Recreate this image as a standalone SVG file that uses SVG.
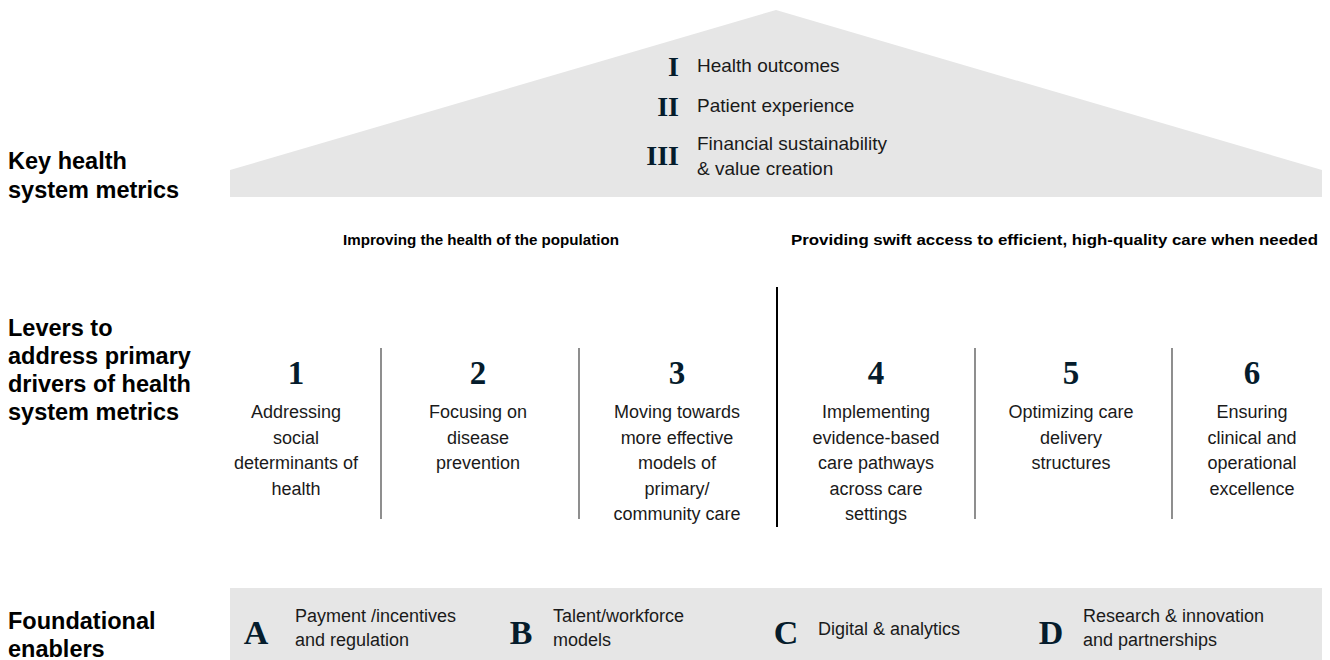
<svg xmlns="http://www.w3.org/2000/svg" width="1330" height="660" viewBox="0 0 1330 660">
  <style>
    .bg { fill: #ffffff; }
    .band { fill: #e6e6e6; }
    .section { font-family: "Liberation Sans", Arial, sans-serif; font-size: 23.5px; font-weight: bold; fill: #000000; }
    .head { font-family: "Liberation Sans", Arial, sans-serif; font-size: 15px; font-weight: bold; fill: #000000; }
    .txt { font-family: "Liberation Sans", Arial, sans-serif; font-size: 18px; fill: #1a1a1a; }
    .roof { font-family: "Liberation Sans", Arial, sans-serif; font-size: 19px; fill: #1a1a1a; }
    .lever { font-family: "Liberation Sans", Arial, sans-serif; font-size: 18px; fill: #1a1a1a; text-anchor: middle; }
    .num { font-family: "Liberation Serif", "Times New Roman", serif; font-size: 33px; font-weight: bold; fill: #051c2c; text-anchor: middle; }
    .roman { font-family: "Liberation Serif", "Times New Roman", serif; font-size: 28px; font-weight: bold; fill: #051c2c; text-anchor: end; }
    .letter { font-family: "Liberation Serif", "Times New Roman", serif; font-size: 34px; font-weight: bold; fill: #051c2c; text-anchor: middle; }
    .div { stroke: #444444; stroke-width: 1.2; }
    .split { stroke: #000000; stroke-width: 2; }
  </style>

  <rect class="bg" x="0" y="0" width="1330" height="660"/>

  <!-- Row labels -->
  <g id="label-metrics">
    <text class="section" x="8" y="169">Key health</text>
    <text class="section" x="8" y="198">system metrics</text>
  </g>
  <g id="label-levers">
    <text class="section" x="8" y="336">Levers to</text>
    <text class="section" x="8" y="364">address primary</text>
    <text class="section" x="8" y="392">drivers of health</text>
    <text class="section" x="8" y="420">system metrics</text>
  </g>
  <g id="label-enablers">
    <text class="section" x="8" y="629">Foundational</text>
    <text class="section" x="8" y="657">enablers</text>
  </g>

  <!-- Roof: health system metrics -->
  <g id="roof">
    <polygon class="band" points="230,170 776,10 1322,170 1322,197 230,197"/>
    <text class="roman" x="679" y="76">I</text>
    <text class="roof" x="697" y="72">Health outcomes</text>
    <text class="roman" x="679" y="116">II</text>
    <text class="roof" x="697" y="112">Patient experience</text>
    <text class="roman" x="679" y="165">III</text>
    <text class="roof" x="697" y="150">Financial sustainability</text>
    <text class="roof" x="697" y="175">&amp; value creation</text>
  </g>

  <!-- Objective headers -->
  <g id="header-population">
    <text class="head" x="343" y="245" textLength="276" lengthAdjust="spacingAndGlyphs">Improving the health of the population</text>
  </g>
  <g id="header-access">
    <text class="head" x="791" y="245" textLength="527" lengthAdjust="spacingAndGlyphs">Providing swift access to efficient, high-quality care when needed</text>
  </g>

  <!-- Dividers between levers -->
  <g id="connectors">
    <line class="split" x1="777" y1="287" x2="777" y2="527"/>
    <line class="div" x1="381" y1="348" x2="381" y2="519"/>
    <line class="div" x1="579" y1="348" x2="579" y2="519"/>
    <line class="div" x1="975" y1="348" x2="975" y2="519"/>
    <line class="div" x1="1172" y1="348" x2="1172" y2="519"/>
  </g>

  <!-- Levers -->
  <g id="lever-1">
    <text class="num" x="296" y="384">1</text>
    <text class="lever" x="296" y="418">Addressing</text>
    <text class="lever" x="296" y="443.5">social</text>
    <text class="lever" x="296" y="469">determinants of</text>
    <text class="lever" x="296" y="494.5">health</text>
  </g>
  <g id="lever-2">
    <text class="num" x="478" y="384">2</text>
    <text class="lever" x="478" y="418">Focusing on</text>
    <text class="lever" x="478" y="443.5">disease</text>
    <text class="lever" x="478" y="469">prevention</text>
  </g>
  <g id="lever-3">
    <text class="num" x="677" y="384">3</text>
    <text class="lever" x="677" y="418">Moving towards</text>
    <text class="lever" x="677" y="443.5">more effective</text>
    <text class="lever" x="677" y="469">models of</text>
    <text class="lever" x="677" y="494.5">primary/</text>
    <text class="lever" x="677" y="520">community care</text>
  </g>
  <g id="lever-4">
    <text class="num" x="876" y="384">4</text>
    <text class="lever" x="876" y="418">Implementing</text>
    <text class="lever" x="876" y="443.5">evidence-based</text>
    <text class="lever" x="876" y="469">care pathways</text>
    <text class="lever" x="876" y="494.5">across care</text>
    <text class="lever" x="876" y="520">settings</text>
  </g>
  <g id="lever-5">
    <text class="num" x="1071" y="384">5</text>
    <text class="lever" x="1071" y="418">Optimizing care</text>
    <text class="lever" x="1071" y="443.5">delivery</text>
    <text class="lever" x="1071" y="469">structures</text>
  </g>
  <g id="lever-6">
    <text class="num" x="1252" y="384">6</text>
    <text class="lever" x="1252" y="418">Ensuring</text>
    <text class="lever" x="1252" y="443.5">clinical and</text>
    <text class="lever" x="1252" y="469">operational</text>
    <text class="lever" x="1252" y="494.5">excellence</text>
  </g>

  <!-- Foundational enablers band -->
  <rect class="band" x="230" y="588" width="1092" height="72"/>
  <g id="enabler-a">
    <text class="letter" x="256" y="644">A</text>
    <text class="txt" x="295" y="622">Payment /incentives</text>
    <text class="txt" x="295" y="646">and regulation</text>
  </g>
  <g id="enabler-b">
    <text class="letter" x="521" y="644">B</text>
    <text class="txt" x="553" y="622">Talent/workforce</text>
    <text class="txt" x="553" y="646">models</text>
  </g>
  <g id="enabler-c">
    <text class="letter" x="786" y="644">C</text>
    <text class="txt" x="818" y="635">Digital &amp; analytics</text>
  </g>
  <g id="enabler-d">
    <text class="letter" x="1051" y="644">D</text>
    <text class="txt" x="1083" y="622">Research &amp; innovation</text>
    <text class="txt" x="1083" y="646">and partnerships</text>
  </g>
</svg>
